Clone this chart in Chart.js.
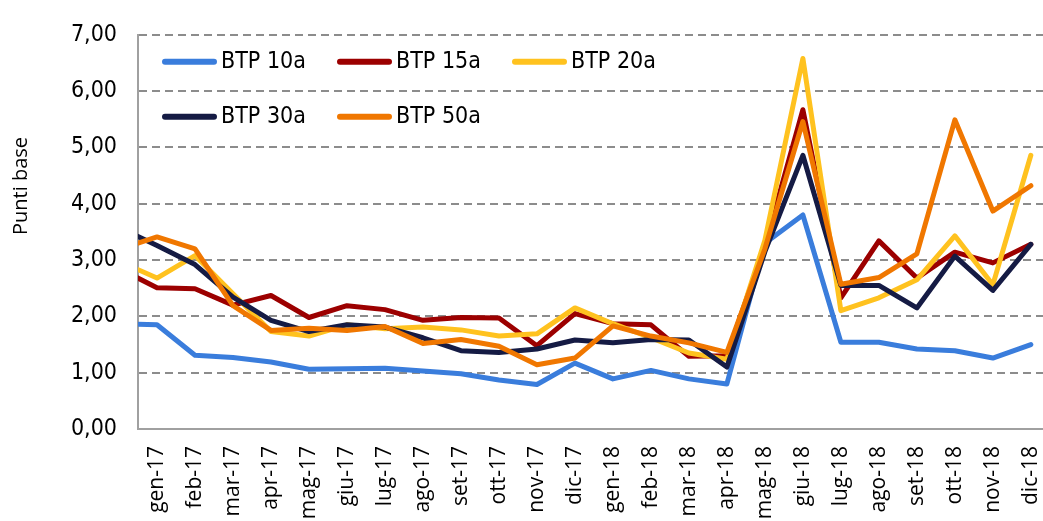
<!DOCTYPE html>
<html>
<head>
<meta charset="utf-8">
<script src="https://cdn.jsdelivr.net/npm/chart.js@4.4.1/dist/chart.umd.min.js"></script>
<style>
html, body { margin: 0; padding: 0; background: #fff; overflow: hidden; }
#wrap { position: relative; width: 1043px; height: 521px; }
</style>
</head>
<body>
<div id="wrap"><canvas id="chart"></canvas></div>
<script>
// first entry (dic-16) sits left of the axis, only its segment toward gen-17 shows
const labels = ['dic-16', 'gen-17', 'feb-17', 'mar-17', 'apr-17', 'mag-17', 'giu-17', 'lug-17', 'ago-17', 'set-17', 'ott-17', 'nov-17', 'dic-17',
    'gen-18', 'feb-18', 'mar-18', 'apr-18', 'mag-18', 'giu-18', 'lug-18', 'ago-18', 'set-18', 'ott-18', 'nov-18', 'dic-18'];

const btp10 = [1.87, 1.85, 1.31, 1.27, 1.19, 1.06, 1.07, 1.08, 1.03, 0.98, 0.87, 0.79, 1.17, 0.89, 1.04, 0.89, 0.80, 3.30, 3.80, 1.54, 1.54, 1.42, 1.39, 1.26, 1.50];
const btp15 = [2.85, 2.51, 2.49, 2.20, 2.37, 1.98, 2.19, 2.12, 1.93, 1.98, 1.97, 1.48, 2.05, 1.87, 1.85, 1.29, 1.30, 3.25, 5.67, 2.33, 3.34, 2.68, 3.14, 2.95, 3.28];
const btp20 = [2.98, 2.68, 3.08, 2.40, 1.73, 1.65, 1.85, 1.78, 1.81, 1.76, 1.65, 1.69, 2.15, 1.87, 1.62, 1.35, 1.24, 3.35, 6.58, 2.10, 2.33, 2.65, 3.43, 2.56, 4.86];
const btp30 = [3.58, 3.26, 2.92, 2.34, 1.93, 1.73, 1.85, 1.81, 1.62, 1.39, 1.36, 1.42, 1.58, 1.53, 1.59, 1.58, 1.10, 3.15, 4.86, 2.55, 2.55, 2.15, 3.07, 2.46, 3.28];
const btp50 = [3.19, 3.41, 3.20, 2.19, 1.75, 1.79, 1.75, 1.82, 1.52, 1.59, 1.47, 1.14, 1.26, 1.83, 1.65, 1.53, 1.36, 3.20, 5.46, 2.57, 2.69, 3.11, 5.49, 3.87, 4.32];

const yTicks = [0, 1, 2, 3, 4, 5, 6, 7];

const condensed = '"DejaVu Sans Condensed", "DejaVu Sans", sans-serif';

function toPoints(arr) {
    return arr.map((v, i) => ({ x: i - 1, y: v }));
}

function line(label, arr, color, order) {
    return {
        label,
        data: toPoints(arr),
        borderColor: color,
        backgroundColor: color,
        borderWidth: 5,
        pointRadius: 0,
        tension: 0,
        borderJoinStyle: 'round',
        borderCapStyle: 'round',
        order
    };
}

// legend in a 3 column grid inside the plot + the y title, drawn by hand
const extras = {
    id: 'extras',
    afterDraw(chart) {
        const { ctx, chartArea } = chart;
        ctx.save();
        ctx.font = '23px ' + condensed;
        ctx.textBaseline = 'middle';
        ctx.lineCap = 'round';
        chart.data.datasets.forEach((ds, i) => {
            const x = chartArea.left + 24 + (i % 3) * 175;
            const y = chartArea.top + 27 + Math.floor(i / 3) * 55;
            ctx.strokeStyle = ds.borderColor;
            ctx.lineWidth = 6;
            ctx.beginPath();
            ctx.moveTo(x + 3, y);
            ctx.lineTo(x + 52, y);
            ctx.stroke();
            ctx.fillStyle = '#000';
            ctx.fillText(ds.label, x + 59, y);
        });

        ctx.translate(27, 186);
        ctx.rotate(-Math.PI / 2);
        ctx.font = '20px "Open Sans", sans-serif';
        ctx.textAlign = 'center';
        ctx.textBaseline = 'alphabetic';
        ctx.fillText('Punti base', 0, 0);
        ctx.restore();
    }
};

new Chart(document.getElementById('chart'), {
    type: 'line',
    data: {
        datasets: [
            line('BTP 10a', btp10, '#3a7ddc', 5),
            line('BTP 15a', btp15, '#9c0000', 4),
            line('BTP 20a', btp20, '#ffc21f', 3),
            line('BTP 30a', btp30, '#151b44', 2),
            line('BTP 50a', btp50, '#f07700', 1)
        ]
    },
    options: {
        responsive: true,
        maintainAspectRatio: false,
        animation: false,
        layout: { padding: { top: 22, right: 0, bottom: 0, left: 0 } },
        plugins: { legend: { display: false }, tooltip: { enabled: false } },
        scales: {
            x: {
                type: 'linear',
                min: -0.5,
                max: 23.32,
                grid: { display: false, drawTicks: false },
                border: { display: true, color: '#a0a0a0', width: 2 },
                afterBuildTicks: axis => {
                    axis.ticks = labels.slice(1).map((m, i) => ({ value: i }));
                },
                afterFit: axis => {
                    axis.height = 92;
                    axis.paddingLeft = 0;
                    axis.paddingRight = 0;
                },
                ticks: {
                    autoSkip: false,
                    minRotation: 90,
                    maxRotation: 90,
                    padding: 17,
                    color: '#000',
                    font: { family: '"Open Sans", sans-serif', size: 21 },
                    callback: v => labels[v + 1]
                }
            },
            y: {
                min: 0,
                max: 7,
                afterBuildTicks: axis => {
                    axis.ticks = yTicks.map(v => ({ value: v }));
                },
                afterFit: axis => {
                    axis.width = 138;
                },
                grid: { color: '#8c8c8c', lineWidth: 2, drawTicks: false },
                border: { display: true, color: '#a0a0a0', width: 2, dash: [8, 5] },
                ticks: {
                    padding: 21,
                    color: '#000',
                    font: { family: condensed, size: 23 },
                    callback: v => v.toFixed(2).replace('.', ',')
                }
            }
        }
    },
    plugins: [extras]
});
</script>
</body>
</html>
